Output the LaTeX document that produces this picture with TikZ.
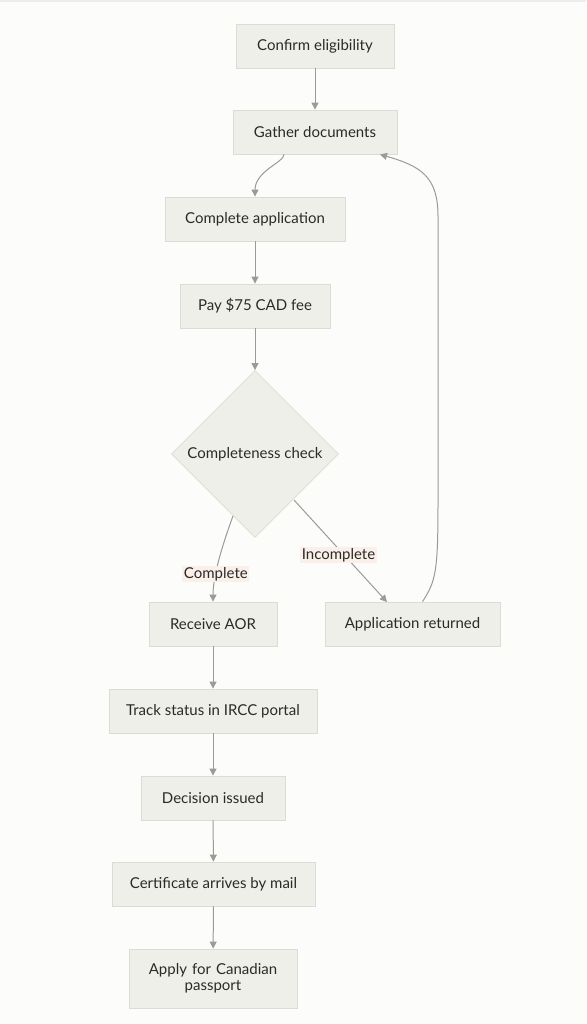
\documentclass[tikz,border=0pt]{standalone}
\usepackage{fontspec}
\setmainfont{Lato}
\usetikzlibrary{shapes.geometric,arrows.meta}
\definecolor{bgc}{HTML}{FCFCFB}
\definecolor{boxfill}{HTML}{EFEFEA}
\definecolor{boxline}{HTML}{DCDCD4}
\definecolor{arrowc}{HTML}{9A9A96}
\definecolor{textc}{HTML}{2A2A28}
\definecolor{lblbg}{HTML}{FBEFE9}
\tikzset{
  box/.style={draw=boxline, fill=boxfill, line width=0.8pt, inner sep=0pt, text=textc, font=\fontsize{15}{16}\selectfont, align=center},
  dia/.style={diamond, draw=boxline, fill=boxfill, line width=0.8pt, inner sep=0pt, minimum width=167pt, minimum height=167pt, text=textc, font=\fontsize{15}{16}\selectfont},
  conn/.style={draw=arrowc, line width=1pt, -{Triangle[length=7pt,width=7pt]}},
  lbl/.style={fill=lblbg, text=textc, font=\fontsize{15}{16}\selectfont, inner sep=1.5pt}
}
\begin{document}
\begin{tikzpicture}[x=1pt,y=-1pt]
\fill[bgc] (0,0) rectangle (586,1024);
\useasboundingbox (0,0) rectangle (586,1024);
\fill[black!7] (0,0) rectangle (586,2.5);
\node[box, minimum width=158pt, minimum height=44pt] (a) at (315,46) {Confirm eligibility};
\node[box, minimum width=164pt, minimum height=44pt] (b) at (315,132) {Gather documents};
\node[box, minimum width=180pt, minimum height=44pt] (c) at (255,219) {Complete application};
\node[box, minimum width=150pt, minimum height=44pt] (d) at (255,306) {Pay \$75 CAD fee};
\node[dia] (e) at (255,454) {Completeness check};
\node[box, minimum width=128pt, minimum height=44pt] (f) at (213,624) {Receive AOR};
\node[box, minimum width=175pt, minimum height=44pt] (g) at (412.5,624) {Application returned};
\node[box, minimum width=208pt, minimum height=44pt] (h) at (213,711) {Track status in IRCC portal};
\node[box, minimum width=144pt, minimum height=44pt] (i) at (213,798) {Decision issued};
\node[box, minimum width=203pt, minimum height=44pt] (j) at (213.5,884) {Certificate arrives by mail};
\node[box, minimum width=168pt, minimum height=59pt, text width=150pt] (k) at (213,978.5) {Apply for Canadian\\passport};

\draw[conn] (a) -- (b);
\draw[conn] ([xshift=-31pt]b.south) .. controls +(0,8) and (255,171) .. (c.north);
\draw[conn] (c) -- (d);
\draw[conn] (d) -- (e.north);
\draw[conn] (233,516) .. controls (222,546) and (213,576) .. (f.north) node[lbl, pos=0.66] {Complete};
\draw[conn] (294,500) -- (387,602) node[lbl, pos=0.5, xshift=-2pt, yshift=-4pt] {Incomplete};
\draw[conn] ([xshift=10pt]g.north) .. controls (436,581) and (438,571) .. (438,501) -- (438,216) .. controls (438,176) and (420,166) .. ([xshift=65pt]b.south);
\draw[conn] (f) -- (h);
\draw[conn] (h) -- (i);
\draw[conn] (i) -- (j);
\draw[conn] (j) -- (k);
\end{tikzpicture}
\end{document}
